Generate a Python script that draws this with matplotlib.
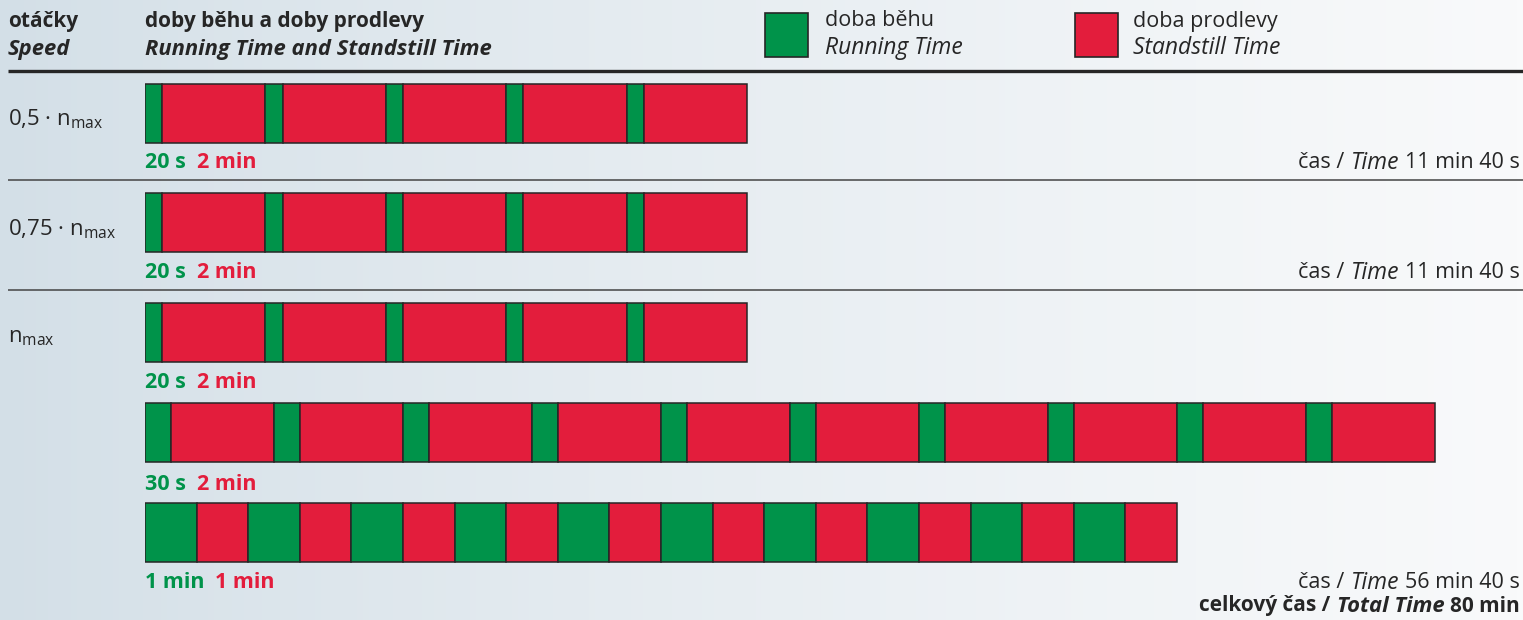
import numpy as np
import matplotlib
matplotlib.use("Agg")
import matplotlib.pyplot as plt

plt.rcParams['font.family'] = ['Open Sans', 'DejaVu Sans']
plt.rcParams['mathtext.fontset'] = 'custom'
plt.rcParams['mathtext.rm'] = 'Open Sans'

# provozni rezimy: (beh, prodleva) v sekundach a pocet cyklu
speed_labels = ["0,5 · n", "0,75 · n", "n"]
speed_rows = [0, 1, 2]
run_times = [20, 20, 20, 30, 60]
stop_times = [120, 120, 120, 120, 60]
cycles = [5, 5, 5, 10, 10]
run_labels = ["20 s", "20 s", "20 s", "30 s", "1 min"]
stop_labels = ["2 min", "2 min", "2 min", "2 min", "1 min"]
row_times = ["11 min 40 s", "11 min 40 s", "56 min 40 s"]
total_time = "80 min"

GREEN = "#00934a"
RED = "#e31d3c"
DARK = "#262626"

W, H = 1523, 620
fig = plt.figure(figsize=(W / 100, H / 100), dpi=100)

# pozadi a texty v pixelovych souradnicich
ax = fig.add_axes([0, 0, 1, 1])
ax.set_xlim(0, W)
ax.set_ylim(H, 0)
ax.axis("off")

grad = np.linspace(0, 1, 256)[None, :]
c0 = np.array([211, 223, 231]) / 255
c1 = np.array([249, 250, 251]) / 255
img = c0[None, None, :] + (c1 - c0)[None, None, :] * (grad ** 0.85)[:, :, None]
ax.imshow(img, extent=[0, W, H, 0], aspect="auto", zorder=0)

# pruhy: x v sekundach
axb = fig.add_axes([145 / W, 0, 1376 / W, 1])
axb.set_xlim(0, 1600)
axb.set_ylim(H, 0)
axb.axis("off")
axb.patch.set_alpha(0)

bar_y = [113.5, 222.5, 332.5, 432.5, 532.5]
bar_h = 59
for i in range(len(run_times)):
    t = 0
    for k in range(cycles[i]):
        axb.barh(bar_y[i], run_times[i], left=t, height=bar_h, color=GREEN,
                 edgecolor=DARK, linewidth=1.1, zorder=3)
        t += run_times[i]
        axb.barh(bar_y[i], stop_times[i], left=t, height=bar_h, color=RED,
                 edgecolor=DARK, linewidth=1.1, zorder=3)
        t += stop_times[i]

renderer = fig.canvas.get_renderer()


def rich_text(x, y, parts, ha="left", gap=0):
    # poskladani textu s ruznym rezem pisma
    seq = parts if ha == "left" else parts[::-1]
    for txt, kw in seq:
        t = ax.text(x, y, txt, ha=ha, va="center", zorder=5, **kw)
        bb = t.get_window_extent(renderer)
        x = (bb.x1 + gap) if ha == "left" else (bb.x0 - gap)


FS = 15.5
bold = dict(fontsize=15, fontweight="bold", color=DARK)
bold_it = dict(fontsize=15.8, fontweight="bold", fontstyle="italic", color=DARK)
reg = dict(fontsize=FS, color=DARK)
reg_it = dict(fontsize=16.5, fontstyle="italic", color=DARK)

# hlavicka
ax.text(8, 22, "otáčky", va="center", **bold)
ax.text(8, 49, "Speed", va="center", **bold_it)
ax.text(145, 22, "doby běhu a doby prodlevy", va="center", **bold)
ax.text(145, 49, "Running Time and Standstill Time", va="center", **bold_it)

ax.add_patch(plt.Rectangle((765, 13), 43, 44, facecolor=GREEN, edgecolor=DARK, lw=1.2, zorder=4))
ax.add_patch(plt.Rectangle((1075, 13), 43, 44, facecolor=RED, edgecolor=DARK, lw=1.2, zorder=4))
ax.text(825, 21, "doba běhu", va="center", **reg)
ax.text(825, 48, "Running Time", va="center", **reg_it)
ax.text(1133, 21, "doba prodlevy", va="center", **reg)
ax.text(1133, 48, "Standstill Time", va="center", **reg_it)

ax.plot([8, W], [71, 71], color=DARK, lw=2.4, zorder=4, solid_capstyle="butt")
for yl in [180, 290]:
    ax.plot([8, W], [yl, yl], color="#444444", lw=1.1, zorder=4, solid_capstyle="butt")

# popisky otacek
speed_y = [119, 229, 338]
for r, lab in zip(speed_rows, speed_labels):
    ax.text(8, speed_y[r], lab + r"$_{\mathregular{max}}$", va="center",
            fontsize=16, color=DARK)

# popisky doby behu a prodlevy
label_y = [163, 273, 383, 485, 583]
for i in range(len(run_labels)):
    rich_text(145, label_y[i],
              [(run_labels[i], dict(fontsize=15.5, fontweight="bold", color=GREEN)),
               (stop_labels[i], dict(fontsize=15.5, fontweight="bold", color=RED))],
              gap=11)

# celkove casy
time_y = [163, 273, 583]
for yv, tm in zip(time_y, row_times):
    rich_text(1520, yv, [("čas /", reg), ("Time", reg_it), (tm, reg)], ha="right", gap=6)
rich_text(1520, 606, [("celkový čas /", bold), ("Total Time", bold_it), (total_time, bold)],
          ha="right", gap=6)

fig.savefig("out.png", dpi=100)
